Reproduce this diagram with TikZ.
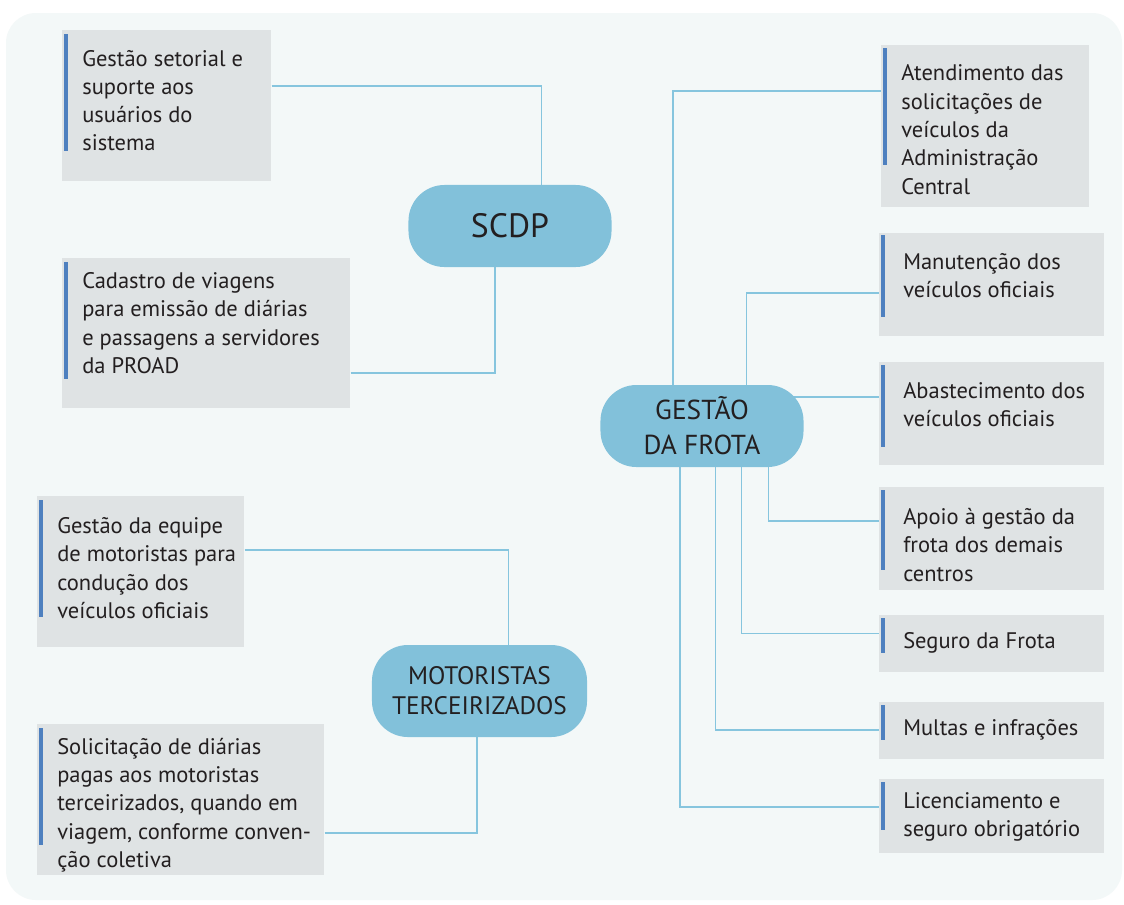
\documentclass[tikz,border=0pt]{standalone}
\usepackage{fontspec}
\setmainfont{PT Sans}
\usetikzlibrary{backgrounds}
\definecolor{panelbg}{HTML}{F3F8F8}
\definecolor{boxgray}{HTML}{DFE3E4}
\definecolor{hubblue}{HTML}{82C1DA}
\definecolor{linkblue}{HTML}{86C5DE}
\definecolor{barblue}{HTML}{4E80BF}
\definecolor{inktext}{HTML}{231F20}
\tikzstyle{infobox} = [rectangle, fill=boxgray, anchor=north west, inner sep=0pt]
\tikzstyle{infotext} = [anchor=base west, align=left, inner sep=0pt, text=inktext, font=\fontsize{16}{20.1}\selectfont]
\tikzstyle{hub} = [rectangle, rounded corners=0.9cm, fill=hubblue, align=center, text=inktext, inner sep=0pt]
\tikzstyle{link} = [draw=linkblue, line width=1.4pt]
\tikzstyle{accent} = [draw=barblue, line width=2.2pt]

\begin{document}
\begin{tikzpicture}[x=0.025cm, y=-0.025cm]
\useasboundingbox (0,0) rectangle (1124,904);
\begin{scope}[on background layer]
\fill[white] (0,0) rectangle (1124,904);
\fill[panelbg, rounded corners=0.75cm] (6,13) rectangle (1122,900);
\end{scope}

%% hubs
\node[hub, minimum width=5.075cm, minimum height=2.05cm, font=\fontsize{24}{28}\selectfont] (scdp) at (510,226) {SCDP};
\node[hub, minimum width=5.075cm, minimum height=2.05cm, font=\fontsize{19.5}{25}\selectfont] (frota) at (702,426) {GESTÃO\\DA FROTA};
\node[hub, minimum width=5.375cm, minimum height=2.3cm, font=\fontsize{18}{21.5}\selectfont] (motoristas) at (479.5,691) {MOTORISTAS\\TERCEIRIZADOS};

%% SCDP (text placed by the baseline of its last line)
\node[infobox, minimum width=5.225cm, minimum height=3.775cm] (setorial) at (62,30) {};
\draw[accent] ([shift={(4,4)}]setorial.north west) -- ++(0,117);
\node[infotext] (setorial-txt) at ([shift={(20,120.8)}]setorial.north west) {Gestão setorial e\\suporte aos\\usuários do\\sistema};

\node[infobox, minimum width=7.2cm, minimum height=3.75cm] (cadastro) at (62,258) {};
\draw[accent] ([shift={(4,4)}]cadastro.north west) -- ++(0,117);
\node[infotext] (cadastro-txt) at ([shift={(20,115.3)}]cadastro.north west) {Cadastro de viagens\\para emissão de diárias\\e passagens a servidores\\da PROAD};

%% Gestao da frota
\node[infobox, minimum width=5.2cm, minimum height=4.05cm] (atendimento) at (881,45) {};
\draw[accent] ([shift={(4,3)}]atendimento.north west) -- ++(0,117);
\node[infotext] (atendimento-txt) at ([shift={(20,149)}]atendimento.north west) {Atendimento das\\solicitações de\\veículos da\\Administração\\Central};

\node[infobox, minimum width=5.625cm, minimum height=2.575cm] (manutencao) at (879,233) {};
\draw[accent] ([shift={(4,2)}]manutencao.north west) -- ++(0,82);
\node[infotext] (manutencao-txt) at ([shift={(24,64.8)}]manutencao.north west) {Manutenção dos\\veículos oficiais};

\node[infobox, minimum width=5.625cm, minimum height=2.575cm] (abastecimento) at (879,362) {};
\draw[accent] ([shift={(4,3)}]abastecimento.north west) -- ++(0,82);
\node[infotext] (abastecimento-txt) at ([shift={(24,64.8)}]abastecimento.north west) {Abastecimento dos\\veículos oficiais};

\node[infobox, minimum width=5.625cm, minimum height=2.575cm] (apoio) at (879,487) {};
\draw[accent] ([shift={(4,3)}]apoio.north west) -- ++(0,80);
\node[infotext] (apoio-txt) at ([shift={(24,94)}]apoio.north west) {Apoio à gestão da\\frota dos demais\\centros};

\node[infobox, minimum width=5.625cm, minimum height=1.425cm] (seguro) at (879,615) {};
\draw[accent] ([shift={(4,3)}]seguro.north west) -- ++(0,35);
\node[infotext] (seguro-txt) at ([shift={(24,33.5)}]seguro.north west) {Seguro da Frota};

\node[infobox, minimum width=5.625cm, minimum height=1.425cm] (multas) at (879,702) {};
\draw[accent] ([shift={(4,3)}]multas.north west) -- ++(0,35);
\node[infotext] (multas-txt) at ([shift={(24,33.5)}]multas.north west) {Multas e infrações};

\node[infobox, minimum width=5.625cm, minimum height=1.85cm] (licenciamento) at (879,779) {};
\draw[accent] ([shift={(4,3)}]licenciamento.north west) -- ++(0,48);
\node[infotext] (licenciamento-txt) at ([shift={(24,57.8)}]licenciamento.north west) {Licenciamento e\\seguro obrigatório};

%% Motoristas
\node[infobox, minimum width=5.175cm, minimum height=3.775cm] (equipe) at (37,496) {};
\draw[accent] ([shift={(4,4)}]equipe.north west) -- ++(0,117);
\node[infotext] (equipe-txt) at ([shift={(20,122.3)}]equipe.north west) {Gestão da equipe\\de motoristas para\\condução dos\\veículos oficiais};

\node[infobox, minimum width=7.175cm, minimum height=3.775cm] (solicitacao) at (37,724) {};
\draw[accent] ([shift={(4,4)}]solicitacao.north west) -- ++(0,117);
\node[infotext] (solicitacao-txt) at ([shift={(20,143.5)}]solicitacao.north west) {Solicitação de diárias\\pagas aos motoristas\\terceirizados, quando em\\viagem, conforme conven-\\ção coletiva};

%% links
\begin{scope}[on background layer]
\draw[link] ([shift={(0,56)}]setorial.north east) -| ([shift={(31.5,0)}]scdp.center);
\draw[link] ([shift={(0,115)}]cadastro.north east) -| ([shift={(-15,0)}]scdp.center);
\draw[link] ([shift={(0,46)}]atendimento.north west) -| ([shift={(-29,0)}]frota.center);
\draw[link] ([shift={(0,60)}]manutencao.north west) -| ([shift={(44.5,0)}]frota.center);
\draw[link] ([shift={(0,35)}]abastecimento.north west) -| (frota.center);
\draw[link] ([shift={(0,34)}]apoio.north west) -| ([shift={(66.5,0)}]frota.center);
\draw[link] ([shift={(0,18.5)}]seguro.north west) -| ([shift={(39.5,0)}]frota.center);
\draw[link] ([shift={(0,28)}]multas.north west) -| ([shift={(13.5,0)}]frota.center);
\draw[link] ([shift={(0,28)}]licenciamento.north west) -| ([shift={(-22,0)}]frota.center);
\draw[link] ([shift={(0,54)}]equipe.north east) -| ([shift={(29,0)}]motoristas.center);
\draw[link] ([shift={(0,109)}]solicitacao.north east) -| ([shift={(-2.5,0)}]motoristas.center);
\end{scope}
\end{tikzpicture}
\end{document}
